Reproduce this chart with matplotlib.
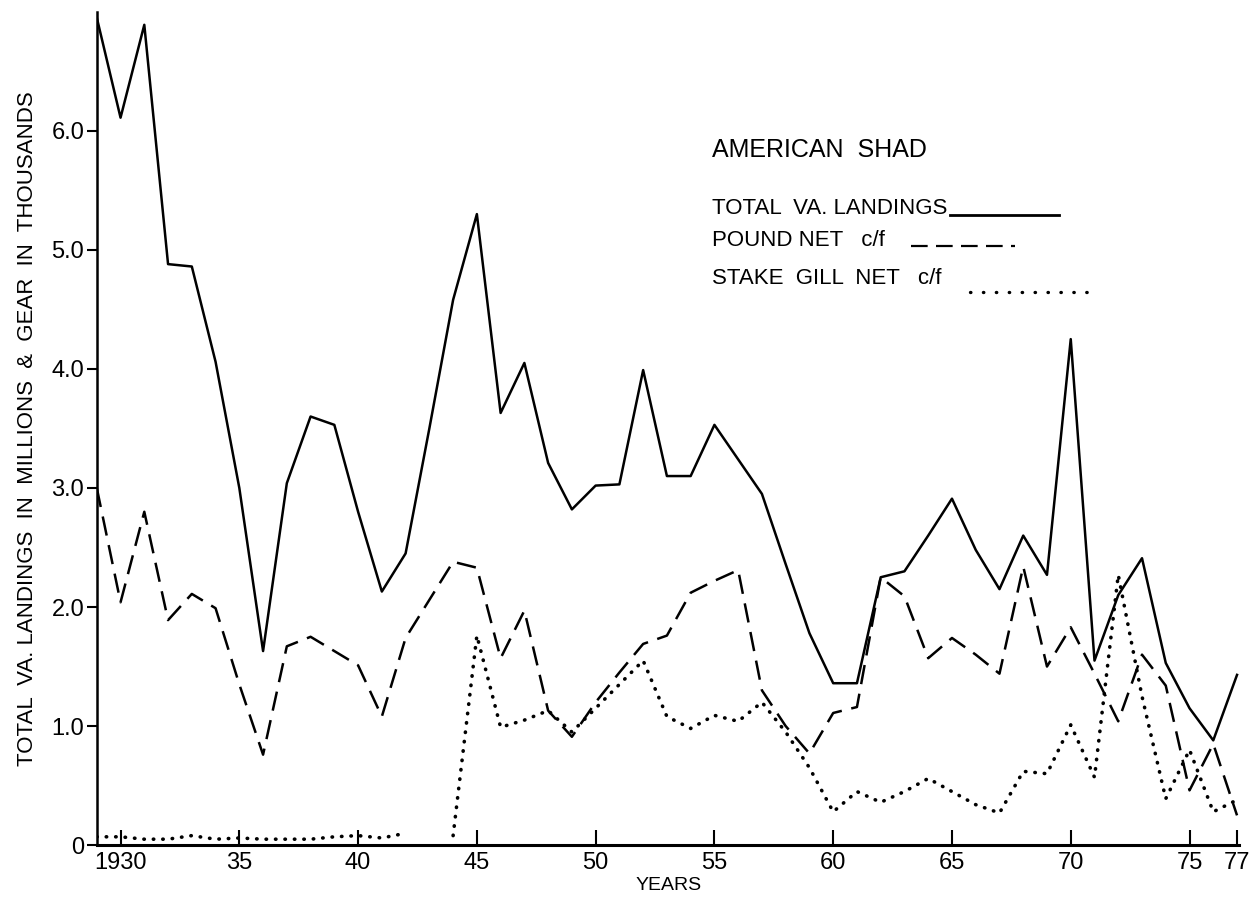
import matplotlib.pyplot as plt
from matplotlib.lines import Line2D

plt.rcParams['font.family'] = ['Liberation Sans', 'DejaVu Sans']
plt.rcParams['lines.scale_dashes'] = False

years = list(range(1929, 1978))

# total Va. landings, millions of lbs
total = [6.95, 6.11, 6.89, 4.88, 4.86, 4.06, 3.0, 1.63, 3.04, 3.6,
         3.53, 2.8, 2.13, 2.45, 3.5, 4.58, 5.3, 3.63, 4.05, 3.21,
         2.82, 3.02, 3.03, 3.99, 3.1, 3.1, 3.53, 3.24, 2.95, 2.36,
         1.78, 1.36, 1.36, 2.25, 2.3, 2.6, 2.91, 2.48, 2.15, 2.6,
         2.27, 4.25, 1.55, 2.1, 2.41, 1.53, 1.15, 0.88, 1.43]

# pound net c/f
pound = [3.0, 2.04, 2.8, 1.89, 2.11, 1.99, 1.35, 0.76, 1.67, 1.75,
         1.63, 1.51, 1.08, 1.74, 2.06, 2.38, 2.33, 1.57, 1.97, 1.13,
         0.91, 1.2, 1.45, 1.69, 1.76, 2.12, 2.22, 2.31, 1.3, 1.0,
         0.77, 1.11, 1.16, 2.25, 2.09, 1.57, 1.74, 1.6, 1.44, 2.34,
         1.5, 1.83, 1.44, 1.04, 1.6, 1.34, 0.46, 0.85, 0.25]

# stake gill net c/f (no value for 1943)
gill = [0.07, 0.07, 0.05, 0.05, 0.08, 0.05, 0.06, 0.05, 0.05, 0.05,
        0.07, 0.08, 0.06, 0.1, None, 0.08, 1.76, 0.99, 1.05, 1.13,
        0.95, 1.15, 1.35, 1.55, 1.08, 0.98, 1.09, 1.04, 1.2, 0.95,
        0.65, 0.28, 0.45, 0.36, 0.45, 0.56, 0.45, 0.34, 0.27, 0.62,
        0.6, 1.01, 0.57, 2.27, 1.25, 0.39, 0.8, 0.28, 0.38]
gill = [float('nan') if v is None else v for v in gill]

xticks = [1930, 1935, 1940, 1945, 1950, 1955, 1960, 1965, 1970, 1975, 1977]
xlabels = ['1930', '35', '40', '45', '50', '55', '60', '65', '70', '75', '77']
yticks = [0, 1, 2, 3, 4, 5, 6]
ylabels = ['0', '1.0', '2.0', '3.0', '4.0', '5.0', '6.0']

fig = plt.figure(figsize=(12.57, 9.01), dpi=100)
ax = fig.add_axes([0.077, 0.062, 0.909, 0.925])

ax.plot(years, total, color='black', lw=1.8)
ax.plot(years, pound, color='black', lw=1.8, dashes=(14, 7))
ax.plot(years, gill, color='black', lw=2.6, dashes=(0.3, 6.5),
        dash_capstyle='round')

ax.set_xlim(1929, 1977.1)
ax.set_ylim(0, 7.0)
ax.spines['top'].set_visible(False)
ax.spines['right'].set_visible(False)
ax.spines['left'].set_linewidth(1.8)
ax.spines['bottom'].set_linewidth(2.2)

ax.set_xticks(xticks)
ax.set_xticklabels(xlabels)
ax.set_yticks(yticks)
ax.set_yticklabels(ylabels)
ax.tick_params(axis='x', direction='in', length=11, width=1.5,
               labelsize=17, pad=5)
ax.tick_params(axis='y', direction='out', length=7, width=1.5,
               labelsize=17, pad=2)

ax.set_xlabel('YEARS', fontsize=14, labelpad=2)
ax.set_ylabel('TOTAL  VA. LANDINGS  IN  MILLIONS  &  GEAR  IN  THOUSANDS',
              fontsize=16, labelpad=10)

# legend drawn by hand, as in the original
ax.text(0.538, 0.834, 'AMERICAN  SHAD', transform=ax.transAxes,
        fontsize=18, va='center')
ax.text(0.538, 0.764, 'TOTAL  VA. LANDINGS', transform=ax.transAxes,
        fontsize=16, va='center')
ax.text(0.538, 0.725, 'POUND NET   c/f', transform=ax.transAxes,
        fontsize=16, va='center')
ax.text(0.538, 0.680, 'STAKE  GILL  NET   c/f', transform=ax.transAxes,
        fontsize=16, va='center')
ax.add_line(Line2D([0.747, 0.842], [0.756, 0.756], transform=ax.transAxes,
                   color='black', lw=2))
ax.add_line(Line2D([0.713, 0.804], [0.719, 0.719], transform=ax.transAxes,
                   color='black', lw=1.6, dashes=(12, 6)))
ax.add_line(Line2D([0.764, 0.876], [0.664, 0.664], transform=ax.transAxes,
                   color='black', lw=2.4, dashes=(0.3, 9),
                   dash_capstyle='round'))

fig.savefig('out.png', dpi=100)
